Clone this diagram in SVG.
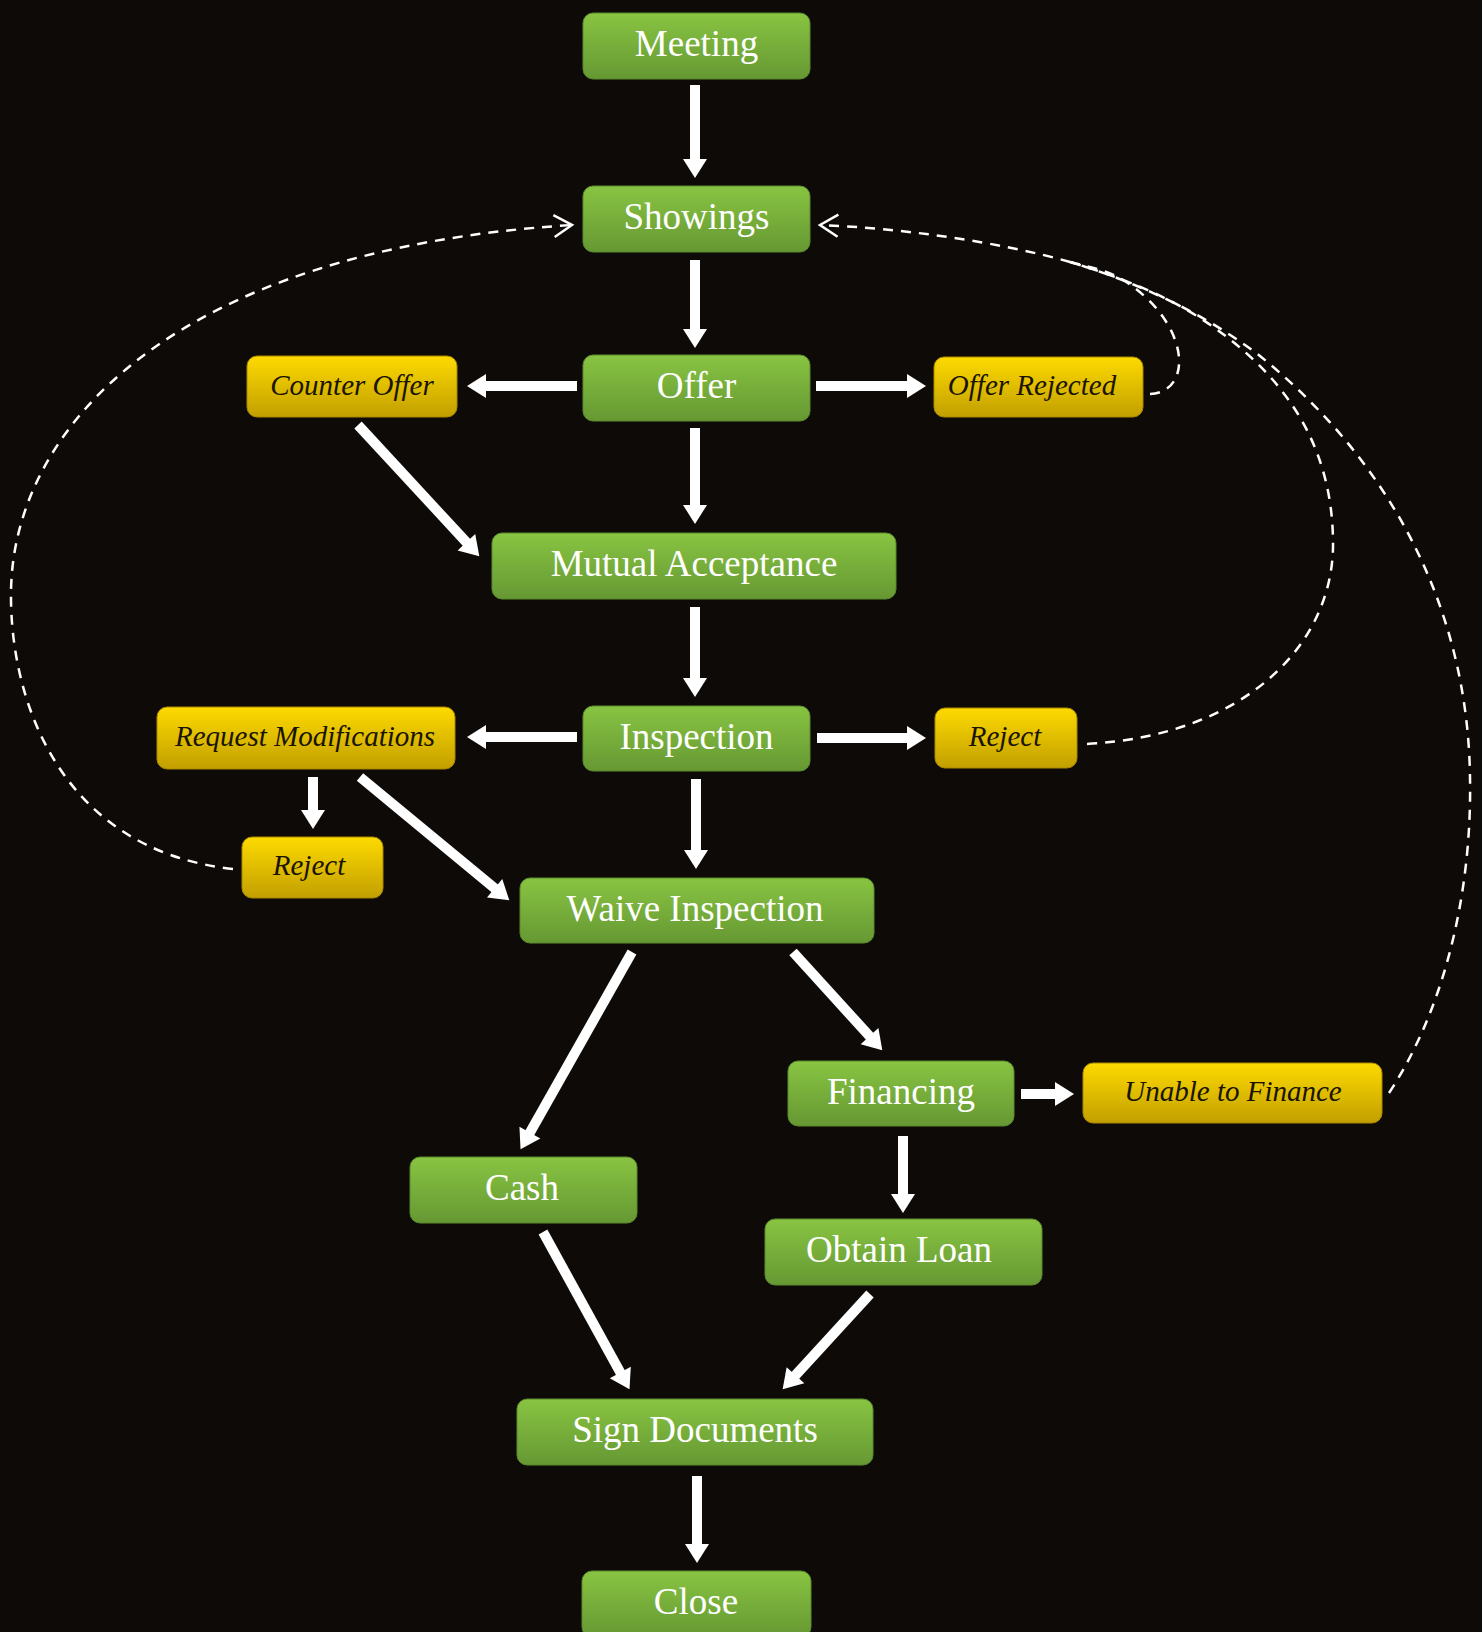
<svg xmlns="http://www.w3.org/2000/svg" width="1482" height="1632" viewBox="0 0 1482 1632">
<defs>
<linearGradient id="gG" x1="0" y1="0" x2="0" y2="1">
<stop offset="0" stop-color="#88c442"/>
<stop offset="1" stop-color="#669833"/>
</linearGradient>
<linearGradient id="gY" x1="0" y1="0" x2="0" y2="1">
<stop offset="0" stop-color="#fdda00"/>
<stop offset="1" stop-color="#c29f00"/>
</linearGradient>
<marker id="ah" markerUnits="userSpaceOnUse" markerWidth="20" markerHeight="24" refX="1" refY="12" orient="auto" overflow="visible">
<path d="M0,0 L19,12 L0,24 z" fill="#ffffff"/>
</marker>
<marker id="chev" markerUnits="userSpaceOnUse" markerWidth="20" markerHeight="24" refX="18" refY="11" orient="auto" overflow="visible">
<path d="M0,0 L18,11 L0,22" fill="none" stroke="#ffffff" stroke-width="2.5"/>
</marker>
</defs>
<style>
.g rect{fill:url(#gG);stroke:#5a8a2c;stroke-width:1}
.y rect{fill:url(#gY);stroke:#a88800;stroke-width:1}
.g text{font-family:"Liberation Serif","Times New Roman",serif;font-size:37px;fill:#ffffff;text-anchor:middle}
.y text{font-family:"Liberation Serif","Times New Roman",serif;font-style:italic;font-size:29px;fill:#1a1400;text-anchor:middle}
.s{stroke:#ffffff;stroke-width:10;fill:none;marker-end:url(#ah)}
.d{stroke:#ffffff;stroke-width:2.5;fill:none;stroke-dasharray:10 8}
.m{marker-end:url(#chev)}
</style>
<rect x="0" y="0" width="1482" height="1632" fill="#0e0a07"/>

<g id="connectors">
<line class="s" x1="695" y1="85" x2="695" y2="160"/>
<line class="s" x1="695" y1="260" x2="695" y2="330"/>
<line class="s" x1="577" y1="386" x2="485" y2="386"/>
<line class="s" x1="816" y1="386" x2="908" y2="386"/>
<line class="s" x1="695" y1="428" x2="695" y2="506"/>
<line class="s" x1="358" y1="425" x2="467.1" y2="543"/>
<line class="s" x1="695" y1="607" x2="695" y2="679"/>
<line class="s" x1="577" y1="737" x2="485" y2="737"/>
<line class="s" x1="817" y1="738" x2="908" y2="738"/>
<line class="s" x1="696" y1="779" x2="696" y2="851"/>
<line class="s" x1="313" y1="777" x2="313" y2="811"/>
<line class="s" x1="360" y1="777" x2="495.4" y2="888.9"/>
<line class="s" x1="632" y1="952" x2="529.4" y2="1133.5"/>
<line class="s" x1="793" y1="952" x2="870.2" y2="1036.9"/>
<line class="s" x1="1021" y1="1094" x2="1056" y2="1094"/>
<line class="s" x1="903" y1="1136" x2="903" y2="1195"/>
<line class="s" x1="543" y1="1232" x2="620.8" y2="1373.4"/>
<line class="s" x1="870" y1="1294" x2="794.8" y2="1376"/>
<line class="s" x1="697" y1="1476" x2="697" y2="1545"/>
<path class="d m" d="M233,869 C60,850 10,700 11,593 C12,430 170,250 572,225"/>
<path class="d" d="M1150,394 C1195,392 1190,320 1120,278 C1105,270 1090,267 1070,262"/>
<path class="d" d="M1087,744 C1250,735 1335,640 1333,541 C1332,440 1280,370 1200,318 C1160,292 1110,274 1070,262"/>
<path class="d" d="M1389,1093 C1450,1000 1472,880 1470,777 C1468,620 1400,470 1260,356 C1200,310 1130,280 1070,262"/>
<path class="d m" d="M1070,262 C1000,242 900,228 820,225"/>
</g>

<g id="meeting" class="g"><rect x="583" y="13" width="227" height="66" rx="10"/><text x="696.5" y="56">Meeting</text></g>
<g id="showings" class="g"><rect x="583" y="186" width="227" height="66" rx="10"/><text x="696.5" y="229">Showings</text></g>
<g id="offer" class="g"><rect x="583" y="355" width="227" height="66" rx="10"/><text x="696.5" y="398">Offer</text></g>
<g id="counter-offer" class="y"><rect x="247" y="356" width="210" height="61" rx="10"/><text x="352" y="395">Counter Offer</text></g>
<g id="offer-rejected" class="y"><rect x="934" y="357" width="209" height="60" rx="10"/><text x="1032" y="395">Offer Rejected</text></g>
<g id="mutual-acceptance" class="g"><rect x="492" y="533" width="404" height="66" rx="10"/><text x="694" y="576">Mutual Acceptance</text></g>
<g id="inspection" class="g"><rect x="583" y="706" width="227" height="65" rx="10"/><text x="696.5" y="749">Inspection</text></g>
<g id="request-modifications" class="y"><rect x="157" y="707" width="298" height="62" rx="10"/><text x="305" y="746">Request Modifications</text></g>
<g id="reject-right" class="y"><rect x="935" y="708" width="142" height="60" rx="10"/><text x="1005" y="746">Reject</text></g>
<g id="reject-left" class="y"><rect x="242" y="837" width="141" height="61" rx="10"/><text x="309" y="875">Reject</text></g>
<g id="waive-inspection" class="g"><rect x="520" y="878" width="354" height="65" rx="10"/><text x="695" y="921">Waive Inspection</text></g>
<g id="financing" class="g"><rect x="788" y="1061" width="226" height="65" rx="10"/><text x="901" y="1104">Financing</text></g>
<g id="unable-to-finance" class="y"><rect x="1083" y="1063" width="299" height="60" rx="10"/><text x="1233" y="1101">Unable to Finance</text></g>
<g id="cash" class="g"><rect x="410" y="1157" width="227" height="66" rx="10"/><text x="522" y="1200">Cash</text></g>
<g id="obtain-loan" class="g"><rect x="765" y="1219" width="277" height="66" rx="10"/><text x="899" y="1262">Obtain Loan</text></g>
<g id="sign-documents" class="g"><rect x="517" y="1399" width="356" height="66" rx="10"/><text x="695" y="1442">Sign Documents</text></g>
<g id="close" class="g"><rect x="582" y="1571" width="229" height="66" rx="10"/><text x="696" y="1614">Close</text></g>
</svg>
